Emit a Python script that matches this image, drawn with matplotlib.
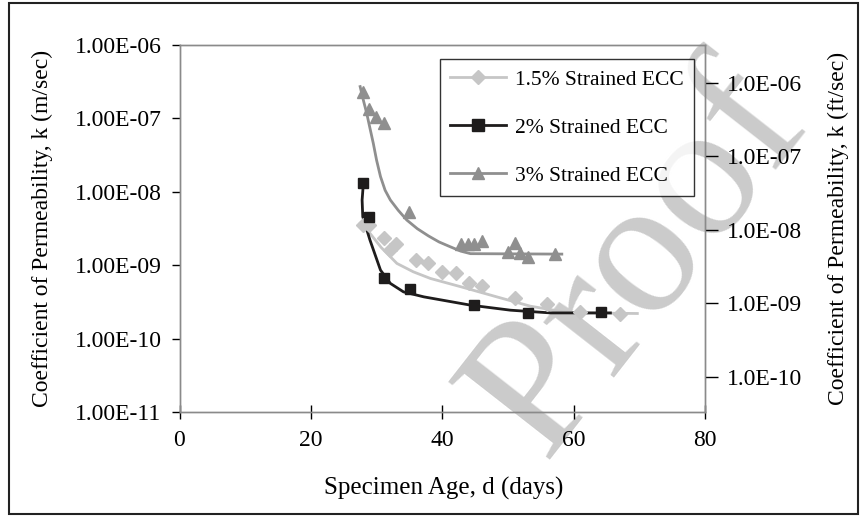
import matplotlib
matplotlib.use("Agg")
import matplotlib.pyplot as plt
from matplotlib.lines import Line2D
from matplotlib.patches import Rectangle

plt.rcParams['font.family'] = ['Liberation Serif', 'DejaVu Serif']

# ---- data ----
age_15 = [27.9, 28.9, 31.1, 32.9, 32.1, 36.0, 37.9, 40.0, 42.1, 44.0, 46.0, 51.0, 56.0, 61.0, 67.0]
k_15 = [3.53e-9, 3.58e-9, 2.32e-9, 1.95e-9, 1.61e-9, 1.18e-9, 1.08e-9, 8.15e-10, 7.76e-10,
        5.78e-10, 5.21e-10, 3.54e-10, 2.93e-10, 2.28e-10, 2.18e-10]

age_2 = [28.0, 28.9, 31.1, 35.1, 44.9, 53.1, 64.2]
k_2 = [1.33e-8, 4.58e-9, 6.62e-10, 4.74e-10, 2.84e-10, 2.25e-10, 2.28e-10]

age_3 = [27.9, 28.9, 29.9, 31.1, 35.0, 42.9, 43.9, 44.9, 46.0, 50.0, 51.0, 51.9, 53.1, 57.1]
k_3 = [2.31e-7, 1.34e-7, 1.03e-7, 8.6e-8, 5.36e-9, 1.94e-9, 1.94e-9, 1.94e-9, 2.12e-9,
       1.5e-9, 1.99e-9, 1.45e-9, 1.28e-9, 1.42e-9]

# fitted trend curves
fit_age_15 = [27.5, 29.0, 30.7, 33.1, 35.6, 38.2, 43.2, 48.3, 53.4, 58.5, 61.0, 69.7]
fit_k_15 = [3.72e-9, 2.72e-9, 1.75e-9, 1.06e-9, 8.15e-10, 6.62e-10, 5.0e-10, 3.72e-10,
            2.78e-10, 2.32e-10, 2.25e-10, 2.21e-10]

fit_age_2 = [28.0, 27.8, 27.9, 29.0, 30.6, 32.1, 34.1, 37.2, 44.3, 50.4, 56.5, 65.6]
fit_k_2 = [1.33e-8, 7.73e-9, 4.58e-9, 2.2e-9, 8.6e-10, 5.67e-10, 4.35e-10, 3.72e-10,
           2.87e-10, 2.45e-10, 2.25e-10, 2.25e-10]

fit_age_3 = [27.5, 28.0, 28.5, 29.0, 29.5, 30.0, 30.6, 31.3, 32.1, 33.3, 34.6, 36.2, 37.9,
             39.5, 41.2, 42.8, 44.3, 58.2]
fit_k_3 = [2.70e-7, 1.75e-7, 1.17e-7, 7.3e-8, 4.58e-8, 2.7e-8, 1.61e-8, 1.05e-8, 7.73e-9,
           5.6e-9, 4.13e-9, 3.15e-9, 2.51e-9, 2.08e-9, 1.79e-9, 1.56e-9, 1.44e-9, 1.42e-9]

labels = ["1.5% Strained ECC", "2% Strained ECC", "3% Strained ECC"]
left_ticks = [1e-11, 1e-10, 1e-9, 1e-8, 1e-7, 1e-6]
left_ticklabels = ["1.00E-11", "1.00E-10", "1.00E-09", "1.00E-08", "1.00E-07", "1.00E-06"]
right_ticks = [1e-10, 1e-9, 1e-8, 1e-7, 1e-6]
right_ticklabels = ["1.0E-10", "1.0E-09", "1.0E-08", "1.0E-07", "1.0E-06"]
x_ticks = [0, 20, 40, 60, 80]
M_TO_FT = 0.3048

c15 = "#c6c6c6"
c2 = "#1e1c1c"
c3 = "#8f8f8f"
spine_c = "#8a8a8a"

fig = plt.figure(figsize=(8.67, 5.2), dpi=100)
fig.patch.set_facecolor("white")

# watermark
fig.text(640 / 867, 1 - 262 / 520, "Proof", fontsize=140, color="#cbcbcb", rotation=52,
         ha="center", va="center", zorder=-5, family="Liberation Serif")

ax = fig.add_axes([179.5 / 867, 1 - 412.3 / 520, (705 - 179.5) / 867, (412.3 - 44.8) / 520])
ax.set_facecolor("none")
ax.set_yscale("log")
ax.set_xlim(0, 80)
ax.set_ylim(1e-11, 1e-6)

ax.plot(fit_age_15, fit_k_15, color=c15, lw=2.0, zorder=3)
ax.plot(fit_age_3, fit_k_3, color=c3, lw=2.0, zorder=3)
ax.plot(fit_age_2, fit_k_2, color=c2, lw=2.0, zorder=4)
ax.plot(age_15, k_15, ls="none", marker="D", ms=7, color=c15, mec=c15, zorder=5)
ax.plot(age_3, k_3, ls="none", marker="^", ms=8.5, color=c3, mec=c3, zorder=5)
ax.plot(age_2, k_2, ls="none", marker="s", ms=7.5, color=c2, mec=c2, zorder=6)

ax.set_xticks(x_ticks)
ax.set_xticklabels([str(v) for v in x_ticks])
ax.set_yticks(left_ticks)
ax.set_yticklabels(left_ticklabels)
ax.yaxis.set_minor_locator(matplotlib.ticker.NullLocator())
ax.tick_params(axis="y", which="major", direction="out", length=6, width=1, color="black",
               labelsize=17, pad=7)
ax.tick_params(axis="x", which="major", direction="inout", length=10, width=1, color="black",
               labelsize=17, pad=8)
for s in ax.spines.values():
    s.set_color(spine_c)
    s.set_linewidth(1.0)

ax.set_xlabel("Specimen Age, d (days)", fontsize=18)
ax.xaxis.set_label_coords(0.503, -0.176)
ax.set_ylabel("Coefficient of Permeability, k (m/sec)", fontsize=17)
ax.yaxis.set_label_coords(-0.241, 0.5)

ax2 = ax.twinx()
ax2.set_yscale("log")
ax2.set_ylim(1e-11 / M_TO_FT, 1e-6 / M_TO_FT)
ax2.set_yticks(right_ticks)
ax2.set_yticklabels(right_ticklabels)
ax2.yaxis.set_minor_locator(matplotlib.ticker.NullLocator())
ax2.tick_params(axis="y", which="major", direction="out", length=9, width=1, color="black",
                labelsize=17, pad=7)
for s in ax2.spines.values():
    s.set_color(spine_c)
    s.set_linewidth(1.0)
ax2.set_ylabel("Coefficient of Permeability, k (ft/sec)", fontsize=17, rotation=90)
ax2.yaxis.set_label_coords(1.234, 0.5)

handles = [
    Line2D([], [], color=c15, lw=2.0, marker="D", ms=7, mec=c15),
    Line2D([], [], color=c2, lw=2.0, marker="s", ms=9, mec=c2),
    Line2D([], [], color=c3, lw=2.0, marker="^", ms=9, mec=c3),
]
leg = ax.legend(handles, labels, loc="upper right", bbox_to_anchor=(0.98, 0.962),
                fontsize=15.5, frameon=True, fancybox=False, edgecolor="black",
                handlelength=2.6, handletextpad=0.4, labelspacing=1.3, borderpad=0.5,
                borderaxespad=0)
leg.get_frame().set_linewidth(1.0)
leg.set_zorder(10)

# outer frame
fig.patches.append(Rectangle((9 / 867, 1 - 514 / 520), (858 - 9) / 867, (514 - 3) / 520,
                             transform=fig.transFigure, fill=False, edgecolor="#222222",
                             lw=1.5, zorder=20))

fig.savefig("out.png", dpi=100)
